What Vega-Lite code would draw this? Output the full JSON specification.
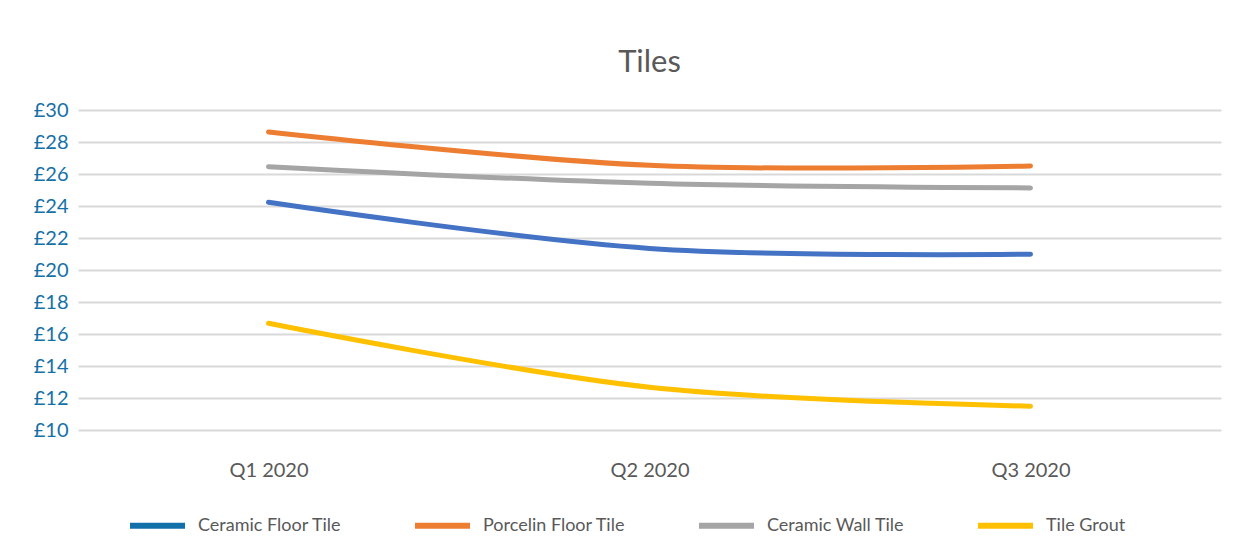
{
  "$schema": "https://vega.github.io/schema/vega-lite/v6.json",
  "width": 1143,
  "height": 320,
  "autosize": {"type": "none"},
  "padding": {"left": 78, "top": 110, "right": 28, "bottom": 125},
  "background": "white",
  "title": {
    "text": "Tiles",
    "fontSize": 31,
    "font": "Lato",
    "fontWeight": "normal",
    "color": "#595959",
    "offset": 21,
    "anchor": "middle"
  },
  "data": {
    "values": [
      {"quarter": "Q1 2020", "product": "Ceramic Floor Tile", "price": 24.23},
      {"quarter": "Q2 2020", "product": "Ceramic Floor Tile", "price": 21.35},
      {"quarter": "Q3 2020", "product": "Ceramic Floor Tile", "price": 20.99},
      {"quarter": "Q1 2020", "product": "Porcelin Floor Tile", "price": 28.63},
      {"quarter": "Q2 2020", "product": "Porcelin Floor Tile", "price": 26.54},
      {"quarter": "Q3 2020", "product": "Porcelin Floor Tile", "price": 26.5},
      {"quarter": "Q1 2020", "product": "Ceramic Wall Tile", "price": 26.46},
      {"quarter": "Q2 2020", "product": "Ceramic Wall Tile", "price": 25.42},
      {"quarter": "Q3 2020", "product": "Ceramic Wall Tile", "price": 25.13},
      {"quarter": "Q1 2020", "product": "Tile Grout", "price": 16.67},
      {"quarter": "Q2 2020", "product": "Tile Grout", "price": 12.67},
      {"quarter": "Q3 2020", "product": "Tile Grout", "price": 11.49}
    ]
  },
  "encoding": {
    "x": {
      "field": "quarter",
      "type": "ordinal",
      "scale": {"type": "point", "padding": 0.5},
      "axis": {
        "title": null,
        "labelAngle": 0,
        "labelFont": "Lato",
        "labelFontSize": 20,
        "labelColor": "#595959",
        "labelPadding": 30,
        "ticks": false,
        "domain": false,
        "grid": false
      }
    },
    "y": {
      "field": "price",
      "type": "quantitative",
      "scale": {"domain": [10, 30], "nice": false, "zero": false},
      "axis": {
        "title": null,
        "values": [10, 12, 14, 16, 18, 20, 22, 24, 26, 28, 30],
        "labelExpr": "'£' + datum.value",
        "labelFont": "Lato",
        "labelFontSize": 20,
        "labelColor": "#1570a6",
        "labelPadding": 10,
        "ticks": false,
        "domain": false,
        "grid": true,
        "gridColor": "#d9d9d9",
        "gridWidth": 2
      }
    }
  },
  "layer": [
    {
      "mark": {
        "type": "line",
        "interpolate": "catmull-rom",
        "strokeWidth": 5,
        "strokeCap": "round",
        "strokeJoin": "round"
      },
      "encoding": {
        "color": {
          "field": "product",
          "type": "nominal",
          "scale": {
            "domain": ["Tile Grout", "Ceramic Wall Tile", "Porcelin Floor Tile", "Ceramic Floor Tile"],
            "range": ["#ffc000", "#a5a5a5", "#ed7d31", "#4472c4"]
          },
          "legend": null
        }
      }
    },
    {
      "transform": [{"filter": "false"}],
      "mark": {"type": "line", "strokeCap": "round"},
      "encoding": {
        "stroke": {
          "field": "product",
          "type": "nominal",
          "scale": {
            "domain": ["Ceramic Floor Tile", "Porcelin Floor Tile", "Ceramic Wall Tile", "Tile Grout"],
            "range": ["#1170aa", "#ed7d31", "#a5a5a5", "#ffc000"]
          },
          "legend": {
            "title": null,
            "orient": "none",
            "direction": "horizontal",
            "legendX": 49,
            "legendY": 385,
            "symbolType": "stroke",
            "symbolSize": 3025,
            "symbolStrokeWidth": 6,
            "labelFont": "Lato",
            "labelFontSize": 18,
            "labelColor": "#595959",
            "labelOffset": 10,
            "columnPadding": 61
          }
        }
      }
    }
  ],
  "config": {
    "view": {"stroke": null}
  }
}
